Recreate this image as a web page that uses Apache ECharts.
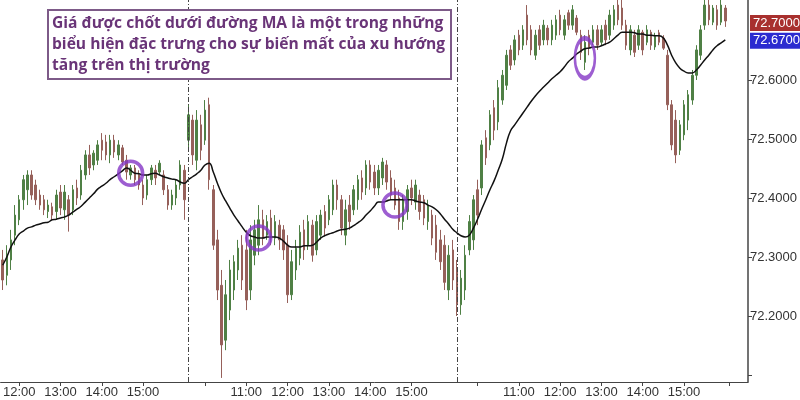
<!DOCTYPE html>
<html>
<head>
<meta charset="utf-8">
<script src="https://cdn.jsdelivr.net/npm/echarts@6/dist/echarts.min.js"></script>
<style>html,body{margin:0;padding:0;background:#fff;}#c{width:800px;height:400px;}</style>
</head>
<body>
<div id="c"></div>
<script>
// ---- data ----
const barCount = 181; // category slots on the time axis (last few are empty)
const tickLabels = {4:'12:00',14:'13:00',24:'14:00',34:'15:00',49:'',59:'11:00',69:'12:00',79:'13:00',89:'14:00',99:'15:00',115:'',125:'11:00',135:'12:00',145:'13:00',155:'14:00',165:'15:00',176:''};
const sessionBreaks = [45, 110];
const yTicks = [72.1, 72.2, 72.3, 72.4, 72.5, 72.6];
const yLabels = [72.2, 72.3, 72.4, 72.5, 72.6];
const lastClose = 72.70;
const lastMA = 72.67;

const opens = [72.295,72.269,72.295,72.337,72.363,72.397,72.414,72.439,72.422,72.405,72.397,72.377,72.385,72.377,72.410,72.380,72.397,72.380,72.417,72.405,72.439,72.473,72.456,72.464,72.498,72.495,72.473,72.498,72.473,72.485,72.464,72.439,72.451,72.439,72.422,72.405,72.431,72.447,72.444,72.439,72.414,72.388,72.400,72.422,72.447,
72.498,72.532,72.464,72.524,72.498,72.558,72.414,72.329,72.252,72.159,72.210,72.244,72.278,72.320,72.312,72.244,72.303,72.320,72.363,72.337,72.366,72.332,72.354,72.346,72.320,72.236,72.278,72.298,72.346,72.320,72.354,72.312,72.337,72.377,72.363,72.380,72.422,72.397,72.337,72.388,72.380,72.397,72.434,72.417,72.456,72.444,72.417,72.434,72.456,72.434,72.417,72.400,72.360,72.377,72.417,72.393,72.405,72.397,72.360,72.371,72.354,72.329,72.320,72.244,72.312,
72.278,72.219,72.244,72.312,72.329,72.414,72.417,72.502,72.490,72.553,72.529,72.566,72.591,72.651,72.634,72.676,72.659,72.710,72.685,72.642,72.685,72.668,72.688,72.668,72.676,72.710,72.676,72.714,72.693,72.705,72.676,72.630,72.676,72.664,72.685,72.664,72.693,72.676,72.693,72.727,72.722,72.693,72.651,72.676,72.659,72.681,72.664,72.681,72.656,72.680,72.671,72.642,72.558,72.532,72.481,72.507,72.532,72.566,72.608,72.642,72.693,72.727,72.698,72.719,72.698,72.722];
const closes = [72.261,72.303,72.329,72.371,72.397,72.431,72.439,72.405,72.397,72.388,72.380,72.388,72.371,72.405,72.383,72.410,72.371,72.414,72.400,72.447,72.473,72.451,72.476,72.490,72.481,72.473,72.498,72.478,72.490,72.461,72.444,72.451,72.431,72.422,72.400,72.431,72.451,72.434,72.459,72.414,72.388,72.405,72.422,72.456,72.397,
72.541,72.473,72.532,72.481,72.549,72.431,72.320,72.244,72.151,72.236,72.278,72.292,72.315,72.261,72.227,72.329,72.346,72.363,72.332,72.360,72.332,72.360,72.329,72.312,72.236,72.292,72.315,72.342,72.312,72.360,72.303,72.360,72.371,72.349,72.397,72.422,72.397,72.349,72.380,72.360,72.414,72.431,72.410,72.456,72.427,72.417,72.447,72.461,72.427,72.405,72.388,72.360,72.397,72.414,72.400,72.422,72.377,72.366,72.388,72.332,72.308,72.292,72.257,72.303,72.261,
72.219,72.264,72.303,72.360,72.397,72.371,72.490,72.468,72.541,72.515,72.587,72.608,72.642,72.625,72.668,72.651,72.685,72.668,72.651,72.676,72.659,72.693,72.668,72.693,72.702,72.685,72.702,72.693,72.719,72.681,72.647,72.664,72.654,72.685,72.659,72.685,72.668,72.710,72.719,72.702,72.693,72.659,72.685,72.647,72.685,72.651,72.685,72.659,72.674,72.664,72.654,72.558,72.490,72.473,72.524,72.558,72.575,72.608,72.651,72.685,72.727,72.702,72.722,72.693,72.727,72.700];
const lows = [72.244,72.252,72.278,72.320,72.354,72.380,72.388,72.397,72.388,72.380,72.371,72.366,72.363,72.363,72.371,72.363,72.343,72.371,72.388,72.397,72.431,72.439,72.447,72.456,72.464,72.464,72.459,72.468,72.464,72.456,72.431,72.431,72.422,72.414,72.388,72.397,72.422,72.422,72.439,72.405,72.380,72.380,72.388,72.414,72.363,
72.481,72.456,72.447,72.464,72.490,72.414,72.312,72.227,72.095,72.142,72.193,72.227,72.261,72.244,72.210,72.227,72.286,72.303,72.320,72.329,72.320,72.320,72.312,72.295,72.222,72.227,72.261,72.286,72.295,72.312,72.292,72.303,72.329,72.337,72.354,72.371,72.380,72.337,72.320,72.346,72.371,72.380,72.397,72.405,72.414,72.405,72.405,72.422,72.414,72.397,72.380,72.346,72.346,72.363,72.388,72.380,72.363,72.354,72.346,72.320,72.295,72.278,72.244,72.227,72.244,
72.200,72.202,72.227,72.303,72.312,72.354,72.405,72.456,72.481,72.498,72.515,72.558,72.583,72.617,72.625,72.642,72.651,72.659,72.642,72.634,72.651,72.659,72.659,72.659,72.668,72.676,72.668,72.685,72.685,72.676,72.634,72.617,72.642,72.659,72.651,72.659,72.659,72.668,72.685,72.693,72.685,72.651,72.642,72.639,72.651,72.642,72.659,72.651,72.651,72.659,72.651,72.549,72.481,72.459,72.473,72.498,72.515,72.558,72.600,72.634,72.685,72.693,72.693,72.685,72.693,72.690];
const highs = [72.312,72.320,72.346,72.388,72.405,72.439,72.447,72.447,72.431,72.414,72.405,72.397,72.392,72.414,72.422,72.422,72.405,72.422,72.431,72.456,72.481,72.490,72.481,72.498,72.510,72.507,72.507,72.507,72.498,72.490,72.473,72.456,72.456,72.447,72.431,72.439,72.456,72.456,72.464,72.447,72.422,72.414,72.431,72.464,72.456,
72.558,72.541,72.549,72.541,72.566,72.570,72.422,72.346,72.278,72.261,72.295,72.303,72.329,72.337,72.346,72.354,72.363,72.388,72.380,72.371,72.380,72.371,72.363,72.354,72.337,72.312,72.329,72.354,72.363,72.371,72.363,72.371,72.380,72.388,72.405,72.431,72.431,72.405,72.397,72.405,72.422,72.439,72.447,72.464,72.464,72.456,72.456,72.468,72.464,72.447,72.431,72.414,72.405,72.422,72.431,72.431,72.414,72.405,72.397,72.380,72.371,72.346,72.337,72.320,72.329,
72.295,72.278,72.320,72.371,72.405,72.431,72.498,72.515,72.549,72.566,72.600,72.617,72.651,72.659,72.676,72.685,72.693,72.727,72.693,72.685,72.693,72.702,72.693,72.702,72.710,72.719,72.710,72.719,72.727,72.710,72.685,72.676,72.685,72.693,72.693,72.693,72.702,72.719,72.727,72.740,72.745,72.702,72.693,72.685,72.693,72.685,72.693,72.685,72.680,72.685,72.676,72.651,72.566,72.549,72.532,72.566,72.583,72.617,72.659,72.693,72.745,72.745,72.727,72.727,72.740,72.727];
const maValues = [72.286,72.300,72.317,72.329,72.339,72.344,72.349,72.351,72.354,72.356,72.358,72.359,72.363,72.364,72.366,72.368,72.371,72.376,72.381,72.386,72.393,72.400,72.407,72.415,72.420,72.425,72.431,72.436,72.441,72.446,72.451,72.447,72.442,72.441,72.439,72.439,72.441,72.442,72.439,72.436,72.434,72.432,72.431,72.427,72.425,
72.431,72.436,72.441,72.447,72.456,72.459,72.444,72.425,72.408,72.395,72.383,72.371,72.361,72.351,72.342,72.336,72.334,72.332,72.332,72.334,72.334,72.334,72.332,72.327,72.320,72.317,72.317,72.317,72.319,72.319,72.320,72.325,72.332,72.336,72.339,72.341,72.344,72.346,72.347,72.349,72.353,72.358,72.363,72.371,72.378,72.386,72.393,72.393,72.395,72.397,72.397,72.397,72.397,72.397,72.397,72.395,72.393,72.392,72.388,72.385,72.380,72.373,72.364,72.356,72.347,
72.341,72.336,72.334,72.337,72.349,72.364,72.381,72.397,72.414,72.429,72.447,72.466,72.493,72.514,72.524,72.534,72.544,72.554,72.564,72.573,72.581,72.588,72.595,72.602,72.608,72.614,72.622,72.631,72.637,72.644,72.649,72.653,72.654,72.656,72.656,72.658,72.661,72.664,72.670,72.676,72.681,72.681,72.681,72.680,72.678,72.678,72.676,72.676,72.675,72.675,72.671,72.659,72.642,72.629,72.620,72.615,72.612,72.612,72.617,72.625,72.634,72.642,72.651,72.658,72.663,72.668];
// highlighted spots (bar index, price)
const circleIdx = [31, 62, 95];
const circleVal = [72.442, 72.332, 72.388];
const ovalIdx = 141;
const ovalVal = 72.637;
const annotation = 'Giá được chốt dưới đường MA là một trong những\nbiểu hiện đặc trưng cho sự biến mất của xu hướng\ntăng trên thị trường';

// ---- build ----
const categories = [];
for (let i = 0; i < barCount; i++) categories.push(String(i));
const ohlc = opens.map((o, i) => [o, closes[i], lows[i], highs[i]]);
const circles = circleIdx.map((x, i) => [x, circleVal[i]]);
const isTick = (idx) => Object.prototype.hasOwnProperty.call(tickLabels, idx);
const priceTag = (val, bg) => ({
  yAxis: val,
  lineStyle: {color: 'rgba(0,0,0,0)', width: 1},
  label: {show: true, position: 'end', distance: 2, offset: [0, 2], formatter: val.toFixed(4), color: '#fff', backgroundColor: bg, padding: [2, 3, 1, 3], fontSize: 13, fontFamily: 'Liberation Sans'}
});

const chart = echarts.init(document.getElementById('c'), null, {renderer: 'canvas'});
const purple = '#8436c6';
chart.setOption({
  animation: false,
  backgroundColor: '#ffffff',
  title: {
    text: annotation,
    left: 48, top: 10,
    padding: [3, 6, 3, 4],
    backgroundColor: '#ffffff',
    borderColor: '#7d5a88',
    borderWidth: 2,
    textStyle: {color: '#6a3578', fontSize: 15.6, fontWeight: 'bold', fontFamily: 'Open Sans', lineHeight: 21}
  },
  grid: {left: 0, right: 49, top: 0, bottom: 18, containLabel: false},
  xAxis: {
    type: 'category',
    data: categories,
    boundaryGap: true,
    axisLine: {lineStyle: {color: '#444', width: 1}},
    axisTick: {show: true, alignWithLabel: true, length: 4, interval: (idx) => isTick(idx), lineStyle: {color: '#444'}},
    axisLabel: {interval: (idx) => isTick(idx) && tickLabels[idx] !== '', formatter: (v, idx) => tickLabels[idx] || '', color: '#333', fontSize: 13, fontFamily: 'Liberation Sans', margin: 4},
    splitLine: {show: false}
  },
  yAxis: {
    type: 'value',
    position: 'right',
    min: 72.0881, max: 72.7356,
    scale: true,
    axisLine: {show: true, lineStyle: {color: '#444', width: 1.5}},
    axisTick: {show: true, length: 4, customValues: yTicks, lineStyle: {color: '#444'}},
    axisLabel: {customValues: yLabels, formatter: (v) => v.toFixed(4), color: '#333', fontSize: 13, fontFamily: 'Liberation Sans', margin: 2},
    splitLine: {show: false}
  },
  series: [
    {
      type: 'candlestick',
      data: ohlc,
      barWidth: 2,
      clip: true,
      itemStyle: {color: '#4f8045', color0: '#96605a', borderColor: '#4f8045', borderColor0: '#96605a', borderWidth: 1},
      markLine: {
        silent: true,
        symbol: ['none', 'none'],
        label: {show: false},
        lineStyle: {color: '#444', type: [5, 2, 1, 2], width: 1},
        data: sessionBreaks.map(b => ({xAxis: b}))
      }
    },
    {
      type: 'line',
      data: maValues,
      smooth: true,
      showSymbol: false,
      lineStyle: {color: '#111', width: 1.5},
      z: 3,
      markLine: {
        silent: true,
        symbol: ['none', 'none'],
        data: [priceTag(lastClose, '#a8302e'), priceTag(lastMA, '#2b2bd0')]
      }
    },
    {
      type: 'scatter',
      data: circles.concat([{value: [ovalIdx, ovalVal], symbolSize: [20, 40]}]),
      symbol: 'circle',
      symbolSize: 24,
      itemStyle: {color: 'rgba(0,0,0,0)', borderColor: purple, borderWidth: 3.5},
      z: 5,
      silent: true
    }
  ]
});
</script>
</body>
</html>
